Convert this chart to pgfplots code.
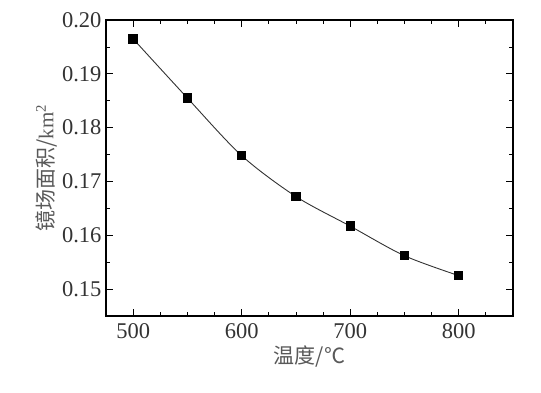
\documentclass[border=0pt]{standalone}
\usepackage{fontspec}
\setmainfont{Liberation Serif}
\newfontfamily\cjk{Noto Sans CJK SC}
\usepackage{pgfplots}
\pgfplotsset{compat=1.18}
\begin{document}
\begin{tikzpicture}
\path[use as bounding box] (-106pt,-77pt) rectangle (435pt,316pt);
\begin{axis}[
  at={(0pt,0pt)}, anchor=south west,
  scale only axis, width=407pt, height=296pt,
  xmin=475, xmax=850, ymin=0.145, ymax=0.2,
  xtick={500,600,700,800},
  minor xtick={525,550,575,625,650,675,725,750,775,825},
  ytick={0.15,0.16,0.17,0.18,0.19,0.20},
  minor ytick={0.155,0.165,0.175,0.185,0.195},
  yticklabel style={/pgf/number format/fixed, /pgf/number format/fixed zerofill, /pgf/number format/precision=2, xshift=-1pt},
  /pgf/number format/assume math mode=true,
  tick align=inside,
  major tick length=7pt, minor tick length=4pt,
  tick style={black, line width=0.8pt},
  axis line style={black, line width=1.2pt},
  ticklabel style={font=\fontsize{22.5}{26}\selectfont, text=black!80},
  xticklabel style={yshift=-4pt},
  xlabel={\cjk 温度/℃},
  ylabel={\cjk 镜场面积/\rmfamily km\textsuperscript{2}},
  label style={font=\fontsize{21}{25}\selectfont, text=black!65},
  xlabel style={yshift=0pt},
  ylabel style={yshift=-2pt},
]
\addplot[smooth, black!80, line width=0.9pt, mark=square*, mark size=4.2pt, mark options={black, solid}]
coordinates {
(500,0.1965)
(550,0.1855)
(600,0.1748)
(650,0.1672)
(700,0.1617)
(750,0.1562)
(800,0.1525)
};
\end{axis}
\end{tikzpicture}
\end{document}
